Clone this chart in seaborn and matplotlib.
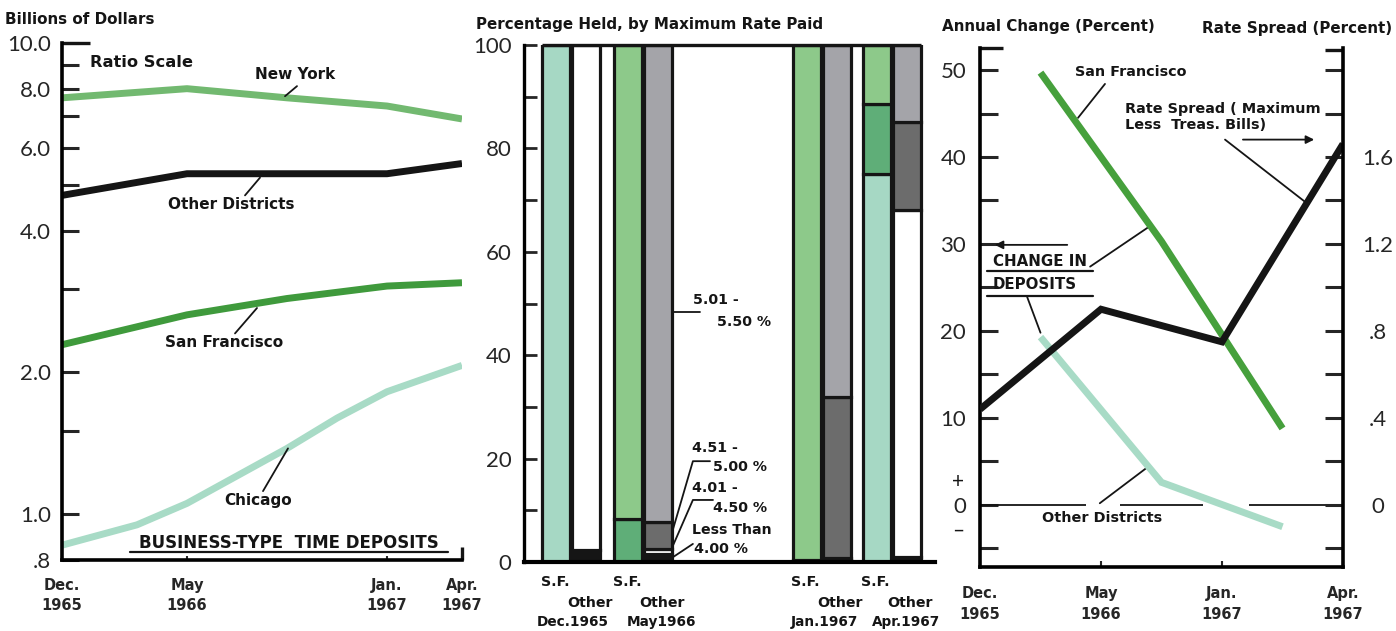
import numpy as np
import pandas as pd
import matplotlib
matplotlib.use("Agg")
import matplotlib.pyplot as plt
import matplotlib.transforms as mtrans
import seaborn as sns

# ---------------- data ----------------
# Left panel: business-type time deposits (billions of dollars, ratio scale)
date_labels = ["Dec.\n1965", "May\n1966", "Jan.\n1967", "Apr.\n1967"]
date_months = [0, 5, 13, 16]          # months after Dec. 1965

ny_months = [0, 5, 9, 13, 16]
ny_values = [7.65, 8.0, 7.65, 7.35, 6.9]
other_months = [0, 5, 13, 16]
other_values = [4.75, 5.28, 5.28, 5.55]
sf_months = [0, 5, 9, 13, 16]
sf_values = [2.29, 2.65, 2.87, 3.05, 3.1]
chicago_months = [0, 3, 5, 9, 11, 13, 16]
chicago_values = [0.86, 0.95, 1.055, 1.38, 1.6, 1.82, 2.07]

# Middle panel: percentage held, by maximum rate paid (bottom to top)
bar_dates = ["Dec.1965", "May1966", "Jan.1967", "Apr.1967"]
rate_classes = ["Less Than 4.00 %", "4.01 - 4.50 %", "4.51 - 5.00 %", "5.01 - 5.50 %"]
sf_below_400 = [0, 0, 0, 0]
sf_401_450 = [100, 0, 0.4, 75.0]
sf_451_500 = [0, 8.3, 0, 13.5]
sf_501_550 = [0, 91.7, 99.6, 11.5]
other_below_400 = [2.3, 1.6, 0.4, 1.0]
other_401_450 = [97.7, 0.9, 0.4, 67.1]
other_451_500 = [0, 5.2, 31.1, 17.0]
other_501_550 = [0, 92.3, 68.1, 14.9]

# Right panel: annual change in deposits (percent) and rate spread (percent)
change_periods = ["Dec.1965-May1966", "May1966-Jan.1967", "Jan.1967-Apr.1967"]
change_sf = [49.7, 30.3, 8.8]
change_other = [19.3, 2.6, -2.5]
rate_spread = [0.44, 0.90, 0.75, 1.66]

# ---------------- style ----------------
sns.set_theme(style="ticks")
plt.rcParams["font.family"] = ["Lato", "DejaVu Sans"]
plt.rcParams["axes.edgecolor"] = "black"
plt.rcParams["text.color"] = "#111111"

W, H = 1396, 631
fig = plt.figure(figsize=(W / 100, H / 100), dpi=100)
fig.patch.set_facecolor("white")


def px_axes(x0, y0, x1, y1):
    return fig.add_axes([x0 / W, 1 - y1 / H, (x1 - x0) / W, (y1 - y0) / H])


INK = "#151515"
BOLD = ["DejaVu Sans"]


def lbl(size):
    return dict(family=BOLD, fontweight="bold", fontsize=size, color=INK)


HDR = lbl(10.9)
LBL_L = lbl(11.0)
LBL_M = lbl(10.2)
LBL_R = lbl(10.4)
NUM = 16

c_ny = "#72b970"
c_sf = "#3f9a3c"
c_chi = "#a8dbc6"
c_teal = "#a6d8c4"
c_green = "#8dc98a"
c_dgreen = "#5fae78"
c_gray = "#a4a4a9"
c_dgray = "#6c6c6c"


def bold_ticklabels(ax):
    for lab in ax.get_xticklabels():
        lab.set_fontfamily(BOLD)
        lab.set_fontweight("bold")
        lab.set_fontsize(10.5)


# ================= left panel =================
axL = px_axes(62, 43, 462, 560)
left_df = pd.concat([
    pd.DataFrame({"month": ny_months, "value": ny_values, "district": "New York"}),
    pd.DataFrame({"month": other_months, "value": other_values, "district": "Other Districts"}),
    pd.DataFrame({"month": sf_months, "value": sf_values, "district": "San Francisco"}),
    pd.DataFrame({"month": chicago_months, "value": chicago_values, "district": "Chicago"}),
])
sns.lineplot(data=left_df, x="month", y="value", hue="district", estimator=None,
             palette={"New York": c_ny, "Other Districts": INK,
                      "San Francisco": c_sf, "Chicago": c_chi},
             linewidth=5, legend=False, ax=axL)
for ln in axL.lines:
    ln.set_solid_capstyle("butt")
    ln.set_solid_joinstyle("round")
axL.set_yscale("log")
axL.set_xlim(0, 16)
axL.set_ylim(0.8, 10.0)
yt = [0.8, 1, 1.5, 2, 3, 4, 5, 6, 7, 8, 9, 10]
ytl = [".8", "1.0", "", "2.0", "", "4.0", "", "6.0", "", "8.0", "", "10.0"]
axL.set_yticks(yt)
axL.set_yticklabels(ytl)
axL.yaxis.set_minor_locator(matplotlib.ticker.NullLocator())
axL.set_xticks(date_months)
axL.set_xticklabels(date_labels, linespacing=1.45)
bold_ticklabels(axL)
axL.tick_params(axis="y", direction="in", length=12, width=2.2, labelsize=NUM, pad=8)
axL.tick_params(axis="x", direction="in", length=3, width=1.5, pad=13)
axL.set_xlabel("")
axL.set_ylabel("")
for s in ["top", "right"]:
    axL.spines[s].set_visible(False)
for s in ["left", "bottom"]:
    axL.spines[s].set_linewidth(2.6)
axL.hlines(10.0, 0, 1.12, color=INK, lw=2.4, clip_on=False)
axL.vlines(16, 0.8, 0.852, color=INK, lw=2.4, clip_on=False)

axL.text(1.12, 9.1, "Ratio Scale", va="center", ha="left", **lbl(11.7))
axL.text(7.72, 8.58, "New York", va="center", ha="left", **LBL_L)
axL.plot([9.4, 8.92], [8.1, 7.71], color=INK, lw=1.3)
axL.text(4.24, 4.54, "Other Districts", va="center", ha="left", **LBL_L)
axL.plot([7.92, 7.32], [5.18, 4.75], color=INK, lw=1.3)
axL.text(4.12, 2.32, "San Francisco", va="center", ha="left", **LBL_L)
axL.plot([7.8, 6.92], [2.74, 2.42], color=INK, lw=1.3)
axL.text(6.48, 1.07, "Chicago", va="center", ha="left", **LBL_L)
axL.plot([9.04, 8.04], [1.38, 1.12], color=INK, lw=1.3)
axL.text(9.08, 0.868, "BUSINESS-TYPE  TIME DEPOSITS", va="center", ha="center", **lbl(12))
axL.plot([2.72, 15.44], [0.83, 0.83], color=INK, lw=1.6)

fig.text(5 / W, 1 - 20 / H, "Billions of Dollars", va="center", ha="left", **HDR)

# ================= middle panel =================
axM = px_axes(524, 45, 935, 562)
axM.set_xlim(0, 13.7)
axM.set_ylim(0, 100)
group_pos = [1.58, 3.98, 9.92, 12.26]
date_label_shift = [0.05, 0.6, 0.11, 0.47]
bw = 0.93

sf_layers = [sf_below_400, sf_401_450, sf_451_500, sf_501_550]
other_layers = [other_below_400, other_401_450, other_451_500, other_501_550]
sf_colors = [INK, c_teal, c_dgreen, c_green]
other_colors = [INK, "white", c_dgray, c_gray]

for layers, colors, off in [(sf_layers, sf_colors, -0.5), (other_layers, other_colors, 0.5)]:
    bottom = np.zeros(len(bar_dates))
    xs = np.array(group_pos) + off
    for vals, col in zip(layers, colors):
        vals = np.array(vals, dtype=float)
        keep = vals > 0
        axM.bar(xs[keep], vals[keep], bottom=bottom[keep], width=bw, color=col,
                edgecolor=INK, linewidth=2.3, zorder=2)
        bottom = bottom + vals

axM.hlines(100, group_pos[0] - 0.5 - bw / 2, group_pos[-1] + 0.5 + bw / 2,
           color=INK, lw=2.4, clip_on=False, zorder=3)
axM.set_yticks(range(0, 101, 10))
axM.set_yticklabels([str(v) if v % 20 == 0 else "" for v in range(0, 101, 10)])
axM.set_xticks([])
axM.tick_params(axis="y", direction="in", length=9, width=2.0, labelsize=NUM, pad=9)
for s in ["top", "right"]:
    axM.spines[s].set_visible(False)
axM.spines["left"].set_linewidth(2.4)
axM.spines["bottom"].set_linewidth(3.0)

bt = mtrans.blended_transform_factory(axM.transData, axM.transAxes)
for i, d in enumerate(bar_dates):
    g = group_pos[i]
    axM.text(g - 0.55, -0.038, "S.F.", transform=bt, ha="center", va="center", **LBL_M)
    axM.text(g + 0.62, -0.079, "Other", transform=bt, ha="center", va="center", **LBL_M)
    axM.text(g + date_label_shift[i], -0.116, d, transform=bt, ha="center", va="center",
             **lbl(9.8))

axM.text(5.63, 50.7, "5.01 -", ha="left", va="center", **LBL_M)
axM.text(6.43, 46.4, "5.50 %", ha="left", va="center", **LBL_M)
axM.plot([4.93, 5.87], [48.3, 48.3], color=INK, lw=1.3)
axM.text(5.6, 22.0, "4.51 -", ha="left", va="center", **LBL_M)
axM.text(6.3, 18.4, "5.00 %", ha="left", va="center", **LBL_M)
axM.plot([4.93, 5.63, 6.2], [5.6, 19.5, 19.5], color=INK, lw=1.3)
axM.text(5.6, 14.3, "4.01 -", ha="left", va="center", **LBL_M)
axM.text(6.3, 10.4, "4.50 %", ha="left", va="center", **LBL_M)
axM.plot([4.93, 5.63, 6.3], [2.7, 12.0, 12.0], color=INK, lw=1.3)
axM.text(5.6, 6.2, "Less Than", ha="left", va="center", **LBL_M)
axM.text(5.66, 2.5, "4.00 %", ha="left", va="center", **LBL_M)
axM.plot([4.93, 5.63], [0.8, 3.5], color=INK, lw=1.3)

fig.text(476 / W, 1 - 25 / H, "Percentage Held, by Maximum Rate Paid",
         va="center", ha="left", **HDR)

# ================= right panel =================
axR = px_axes(980, 48, 1343, 567)
YLO, YHI = -7.13, 52.53
axR.set_xlim(0, 3)
axR.set_ylim(YLO, YHI)
mid = np.arange(len(change_periods)) + 0.5
chg_df = pd.concat([
    pd.DataFrame({"pos": mid, "chg": change_sf, "district": "San Francisco"}),
    pd.DataFrame({"pos": mid, "chg": change_other, "district": "Other Districts"}),
])
sns.lineplot(data=chg_df, x="pos", y="chg", hue="district", estimator=None,
             palette={"San Francisco": "#46a03c", "Other Districts": c_chi},
             linewidth=5, legend=False, ax=axR, zorder=3)

axR2 = axR.twinx()
axR2.set_ylim(YLO / 25, YHI / 25)
sns.lineplot(x=np.arange(len(rate_spread)), y=rate_spread, color=INK,
             linewidth=5, ax=axR2, zorder=2)
for a in (axR, axR2):
    for ln in a.lines:
        ln.set_solid_capstyle("butt")
        ln.set_solid_joinstyle("miter")

axR.set_yticks(range(-5, 51, 5))
axR.set_yticklabels([str(v) if (v % 10 == 0 and v >= 0) else "" for v in range(-5, 51, 5)])
axR.set_xticks(range(4))
axR.set_xticklabels(date_labels, linespacing=1.45)
bold_ticklabels(axR)
axR.tick_params(axis="y", direction="in", length=13, width=2.2, labelsize=NUM, pad=10)
axR.tick_params(axis="x", direction="in", length=4, width=1.5, pad=14)
axR.set_xlabel("")
axR.set_ylabel("")
rt = np.round(np.arange(-0.2, 2.01, 0.2), 1)
axR2.set_yticks(rt)
axR2.set_yticklabels(["0" if v == 0 else (f"{v:.1f}".lstrip("0") if v in (0.4, 0.8, 1.2, 1.6) else "")
                      for v in rt])
axR2.tick_params(axis="y", direction="in", length=13, width=2.2, labelsize=NUM, pad=25)
for lab in axR2.get_yticklabels():
    lab.set_horizontalalignment("center")
axR2.set_ylabel("")
for s in ["top", "right"]:
    axR.spines[s].set_visible(False)
for s in ["top", "left", "bottom"]:
    axR2.spines[s].set_visible(False)
axR.spines["left"].set_linewidth(2.6)
axR.spines["bottom"].set_linewidth(2.6)
axR2.spines["right"].set_linewidth(2.6)
axR.hlines(YHI, 0, 0.19, color=INK, lw=2.4, clip_on=False)
axR.hlines(YHI - 0.25, 2.85, 3, color=INK, lw=2.4, clip_on=False)

# zero reference line, broken where labels cross it
for x0, x1 in [(0, 0.88), (1.16, 1.84), (2.22, 3)]:
    axR.hlines(0, x0, x1, color=INK, lw=1.3, zorder=1)

sign_t = mtrans.blended_transform_factory(axR.transAxes, axR.transData)
axR.text(-0.06, 2.6, "+", transform=sign_t, ha="center", va="center", fontsize=15, color=INK)
axR.text(-0.06, -2.9, "\u2013", transform=sign_t, ha="center", va="center", fontsize=15, color=INK)

axR.text(0.785, 49.8, "San Francisco", ha="left", va="center", **LBL_R)
axR.plot([1.033, 0.81], [48.4, 44.5], color=INK, lw=1.3)
axR.text(1.198, 44.6, "Rate Spread ( Maximum\nLess  Treas. Bills)", ha="left", va="center",
         linespacing=1.15, **LBL_R)
axR.annotate("", xy=(2.785, 42.0), xytext=(2.15, 42.0),
             arrowprops=dict(arrowstyle="-|>", lw=1.3, color=INK, mutation_scale=12))
axR.plot([2.025, 2.70], [42.0, 34.7], color=INK, lw=1.3)
axR.annotate("", xy=(0.099, 29.9), xytext=(0.744, 29.9),
             arrowprops=dict(arrowstyle="-|>", lw=1.3, color=INK, mutation_scale=12))
axR.text(0.107, 28.0, "CHANGE IN", ha="left", va="center", **lbl(10.8))
axR.plot([0.058, 0.934], [26.9, 26.9], color=INK, lw=1.6)
axR.text(0.107, 25.3, "DEPOSITS", ha="left", va="center", **lbl(10.8))
axR.plot([0.058, 0.934], [24.0, 24.0], color=INK, lw=1.6)
axR.plot([0.91, 1.42], [27.4, 32.2], color=INK, lw=1.3)
axR.plot([0.39, 0.5], [23.9, 19.8], color=INK, lw=1.3)
axR.text(0.512, -1.5, "Other Districts", ha="left", va="center", **LBL_R)
axR.plot([0.99, 1.39], [0.2, 4.4], color=INK, lw=1.3)

fig.text(942 / W, 1 - 27 / H, "Annual Change (Percent)", va="center", ha="left", **HDR)
fig.text(1202 / W, 1 - 29 / H, "Rate Spread (Percent)", va="center", ha="left", **HDR)

fig.savefig("out.png", dpi=100, facecolor="white")
